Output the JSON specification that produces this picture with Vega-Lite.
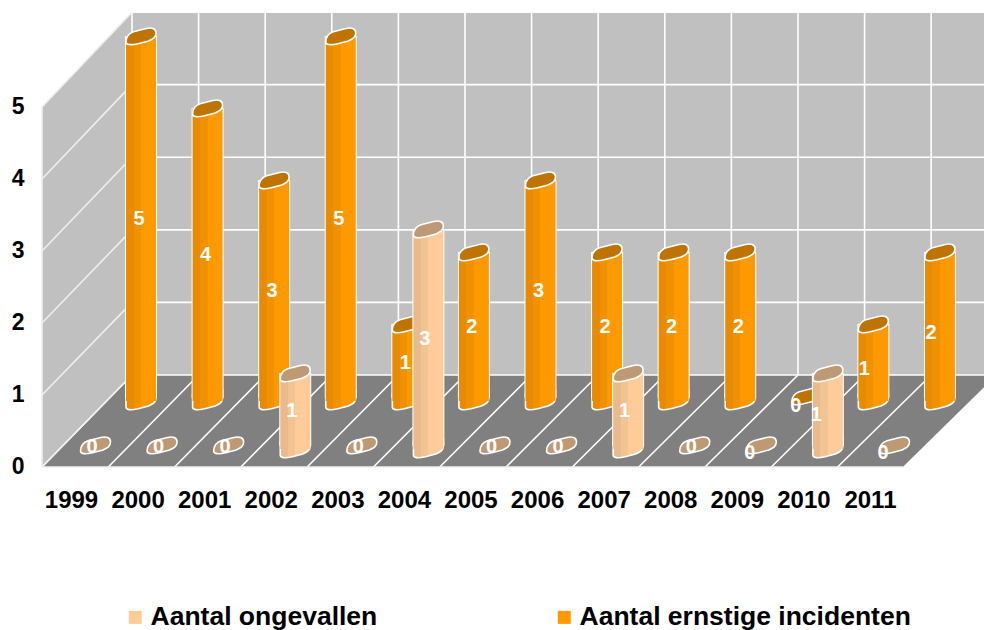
{"$schema":"https://vega.github.io/schema/vega-lite/v6.json","width":954,"height":480,"autosize":{"type":"none"},"padding":{"left":30,"top":0,"right":0,"bottom":150},"background":"white","config":{"view":{"stroke":null}},
"datasets":{"bars":[
{"year":1999,"series":"Aantal ongevallen","value":0},{"year":2000,"series":"Aantal ongevallen","value":0},{"year":2001,"series":"Aantal ongevallen","value":0},{"year":2002,"series":"Aantal ongevallen","value":1},{"year":2003,"series":"Aantal ongevallen","value":0},{"year":2004,"series":"Aantal ongevallen","value":3},{"year":2005,"series":"Aantal ongevallen","value":0},{"year":2006,"series":"Aantal ongevallen","value":0},{"year":2007,"series":"Aantal ongevallen","value":1},{"year":2008,"series":"Aantal ongevallen","value":0},{"year":2009,"series":"Aantal ongevallen","value":0},{"year":2010,"series":"Aantal ongevallen","value":1},{"year":2011,"series":"Aantal ongevallen","value":0},
{"year":1999,"series":"Aantal ernstige incidenten","value":5},{"year":2000,"series":"Aantal ernstige incidenten","value":4},{"year":2001,"series":"Aantal ernstige incidenten","value":3},{"year":2002,"series":"Aantal ernstige incidenten","value":5},{"year":2003,"series":"Aantal ernstige incidenten","value":1},{"year":2004,"series":"Aantal ernstige incidenten","value":2},{"year":2005,"series":"Aantal ernstige incidenten","value":3},{"year":2006,"series":"Aantal ernstige incidenten","value":2},{"year":2007,"series":"Aantal ernstige incidenten","value":2},{"year":2008,"series":"Aantal ernstige incidenten","value":2},{"year":2009,"series":"Aantal ernstige incidenten","value":0},{"year":2010,"series":"Aantal ernstige incidenten","value":1},{"year":2011,"series":"Aantal ernstige incidenten","value":2}],
"ks":[{"k":0},{"k":1},{"k":2},{"k":3},{"k":4},{"k":5},{"k":6},{"k":7},{"k":8},{"k":9},{"k":10},{"k":11},{"k":12},{"k":13}],
"vs":[{"v":0},{"v":1},{"v":2},{"v":3},{"v":4},{"v":5}],
"one":[{"a":1}],
"leftWall":[{"x":1998.564,"top":5,"bot":0},{"x":1999.916,"top":6.318,"bot":1.278}],
"floor":[{"x":1998.564,"top":0,"bot":0},{"x":1999.916,"top":1.278,"bot":0},{"x":2011.509,"top":1.278,"bot":0},{"x":2012.92,"top":1.278,"bot":1.278}]},
"data":{"name":"bars"},
"encoding":{"x":{"field":"year","type":"quantitative","scale":{"domain":[1998.384,2012.713],"nice":false,"zero":false,"padding":0},"axis":{"values":[1999,2000,2001,2002,2003,2004,2005,2006,2007,2008,2009,2010,2011],"format":"d","title":null,"domain":false,"ticks":false,"grid":false,"labelFont":"Liberation Sans","labelFontWeight":"bold","labelFontSize":24,"labelColor":"black","labelPadding":8,"labelOverlap":false,"labelFlush":false}},
"y":{"field":"value","type":"quantitative","scale":{"domain":[-0.1806,6.486],"nice":false,"zero":false},"axis":{"values":[0,1,2,3,4,5],"format":"d","title":null,"domain":false,"ticks":false,"grid":false,"labelFont":"Liberation Sans","labelFontWeight":"bold","labelFontSize":23,"labelColor":"black","labelPadding":6,"labelOverlap":false,"labelFlush":false}}},
"layer":[
{"data":{"name":"one"},"transform":[{"calculate":"1999.916","as":"xa"},{"calculate":"2012.713","as":"xz"},{"calculate":"1.278","as":"ya"},{"calculate":"6.318","as":"yz"}],"mark":{"type":"rect","fill":"#C0C0C0"},"encoding":{"x":{"field":"xa","type":"quantitative","scale":{"domain":[1998.384,2012.713],"nice":false,"zero":false,"padding":0}},"x2":{"field":"xz"},"y":{"field":"ya","type":"quantitative","scale":{"domain":[-0.1806,6.486],"nice":false,"zero":false}},"y2":{"field":"yz"}}},
{"data":{"name":"leftWall"},"mark":{"type":"area","fill":"#C0C0C0","orient":"vertical"},"encoding":{"x":{"field":"x","type":"quantitative","scale":{"domain":[1998.384,2012.713],"nice":false,"zero":false,"padding":0}},"y":{"field":"top","type":"quantitative","scale":{"domain":[-0.1806,6.486],"nice":false,"zero":false}},"y2":{"field":"bot"}}},
{"data":{"name":"floor"},"mark":{"type":"area","fill":"#808080","orient":"vertical","clip":true},"encoding":{"x":{"field":"x","type":"quantitative","scale":{"domain":[1998.384,2012.713],"nice":false,"zero":false,"padding":0}},"y":{"field":"top","type":"quantitative","scale":{"domain":[-0.1806,6.486],"nice":false,"zero":false}},"y2":{"field":"bot"}}},
{"data":{"name":"ks"},"transform":[{"calculate":"1998.564+0.9958*datum.k","as":"xf"},{"calculate":"1999.916+1.0003*datum.k","as":"xb"},{"calculate":"0","as":"ya"},{"calculate":"1.278","as":"yz"}],"mark":{"type":"rule","stroke":"white","strokeWidth":1.6,"clip":true},"encoding":{"x":{"field":"xf","type":"quantitative","scale":{"domain":[1998.384,2012.713],"nice":false,"zero":false,"padding":0}},"x2":{"field":"xb"},"y":{"field":"ya","type":"quantitative","scale":{"domain":[-0.1806,6.486],"nice":false,"zero":false}},"y2":{"field":"yz"}}},
{"data":{"name":"ks"},"transform":[{"calculate":"1999.916+1.0003*datum.k","as":"xb"},{"calculate":"1.278","as":"ya"},{"calculate":"6.318","as":"yz"}],"mark":{"type":"rule","stroke":"white","strokeWidth":1.6,"clip":true},"encoding":{"x":{"field":"xb","type":"quantitative","scale":{"domain":[1998.384,2012.713],"nice":false,"zero":false,"padding":0}},"y":{"field":"ya","type":"quantitative","scale":{"domain":[-0.1806,6.486],"nice":false,"zero":false}},"y2":{"field":"yz"}}},
{"data":{"name":"vs"},"transform":[{"calculate":"1.278+1.008*datum.v","as":"yb"},{"calculate":"1999.916","as":"xa"},{"calculate":"2012.713","as":"xz"}],"mark":{"type":"rule","stroke":"white","strokeWidth":1.6},"encoding":{"x":{"field":"xa","type":"quantitative","scale":{"domain":[1998.384,2012.713],"nice":false,"zero":false,"padding":0}},"x2":{"field":"xz"},"y":{"field":"yb","type":"quantitative","scale":{"domain":[-0.1806,6.486],"nice":false,"zero":false}}}},
{"data":{"name":"vs"},"transform":[{"calculate":"1.278+1.008*datum.v","as":"yb"},{"calculate":"1998.564","as":"xa"},{"calculate":"1999.916","as":"xz"}],"mark":{"type":"rule","stroke":"#F0F0F0","strokeWidth":1.6},"encoding":{"x":{"field":"xa","type":"quantitative","scale":{"domain":[1998.384,2012.713],"nice":false,"zero":false,"padding":0}},"x2":{"field":"xz"},"y":{"field":"v","type":"quantitative","scale":{"domain":[-0.1806,6.486],"nice":false,"zero":false}},"y2":{"field":"yb"}}},
{"data":{"name":"one"},"transform":[{"calculate":"1998.564","as":"xa"},{"calculate":"0","as":"ya"},{"calculate":"5","as":"yz"}],"mark":{"type":"rule","stroke":"#F0F0F0","strokeWidth":1.6},"encoding":{"x":{"field":"xa","type":"quantitative","scale":{"domain":[1998.384,2012.713],"nice":false,"zero":false,"padding":0}},"y":{"field":"ya","type":"quantitative","scale":{"domain":[-0.1806,6.486],"nice":false,"zero":false}},"y2":{"field":"yz"}}},
{"data":{"name":"one"},"transform":[{"calculate":"1998.564","as":"xa"},{"calculate":"2011.509","as":"xz"},{"calculate":"0","as":"ya"}],"mark":{"type":"rule","stroke":"#F0F0F0","strokeWidth":1.6},"encoding":{"x":{"field":"xa","type":"quantitative","scale":{"domain":[1998.384,2012.713],"nice":false,"zero":false,"padding":0}},"x2":{"field":"xz"},"y":{"field":"ya","type":"quantitative","scale":{"domain":[-0.1806,6.486],"nice":false,"zero":false}}}},

{"transform":[{"filter":"datum.series=='Aantal ernstige incidenten' && datum.value>0"}],"mark":{"type":"bar","orient":"vertical","width":30,"xOffset":70,"yOffset":-70,"y2Offset":-70,"stroke":"white","strokeWidth":2},"encoding":{"y2":{"datum":0},"color":{"field":"series","type":"nominal","scale":{"domain":["Aantal ongevallen","Aantal ernstige incidenten"],"range":["#FFCC99","#FF9900"]},"legend":{"orient":"none","legendX":92,"legendY":604,"direction":"horizontal","columns":2,"columnPadding":173,"title":null,"symbolType":"square","symbolSize":169,"symbolStrokeWidth":0,"labelFont":"Liberation Sans","labelFontWeight":"bold","labelFontSize":26.5,"labelColor":"black","labelOffset":2,"symbolOpacity":1,"labelLimit":500,"padding":0}}}},
{"transform":[{"filter":"datum.series=='Aantal ernstige incidenten' && datum.value>0"}],"mark":{"type":"point","filled":true,"opacity":1,"size":900,"shape":"M-1,-0.5 L1,-0.7 L1,-0.2 C1,0.1 0.8,0.2 0.5,0.33 L-0.2,0.52 C-0.7,0.62 -1,0.6 -1,0.4 Z","fill":{"gradient":"linear","x1":0,"y1":0,"x2":1,"y2":0,"stops":[{"offset":0,"color":"#E88B00"},{"offset":0.25,"color":"#E88B00"},{"offset":0.25,"color":"#F09200"},{"offset":0.5,"color":"#F09200"},{"offset":0.5,"color":"#FF9900"},{"offset":1,"color":"#FF9900"}]},"stroke":"white","strokeWidth":1.6,"xOffset":70,"yOffset":-66},"encoding":{"y":{"datum":0,"type":"quantitative","scale":{"domain":[-0.1806,6.486],"nice":false,"zero":false}}}},
{"transform":[{"filter":"datum.series=='Aantal ernstige incidenten' && datum.value>0"}],"mark":{"type":"bar","orient":"vertical","width":30,"xOffset":70,"yOffset":-70,"y2Offset":-66,"fill":{"gradient":"linear","x1":0,"y1":0,"x2":1,"y2":0,"stops":[{"offset":0,"color":"#E88B00"},{"offset":0.25,"color":"#E88B00"},{"offset":0.25,"color":"#F09200"},{"offset":0.5,"color":"#F09200"},{"offset":0.5,"color":"#FF9900"},{"offset":1,"color":"#FF9900"}]}},"encoding":{"y2":{"datum":0}}},
{"transform":[{"filter":"datum.series=='Aantal ernstige incidenten'"}],"mark":{"type":"point","filled":true,"opacity":1,"size":900,"shape":"M-1,0.4 C-1,0.05 -0.85,-0.15 -0.5,-0.28 L0.35,-0.5 C0.7,-0.58 1,-0.5 1,-0.2 C1,0.1 0.8,0.2 0.5,0.33 L-0.2,0.52 C-0.7,0.62 -1,0.6 -1,0.4 Z","fill":"#BF7300","stroke":"white","strokeWidth":1.6,"xOffset":70,"yOffset":-71}},

{"transform":[{"filter":"datum.series=='Aantal ongevallen' && datum.value>0"}],"mark":{"type":"bar","orient":"vertical","width":30,"xOffset":24.5,"yOffset":-21,"y2Offset":-22,"stroke":"white","strokeWidth":2,"fill":"#FFCC99"},"encoding":{"y2":{"datum":0}}},
{"transform":[{"filter":"datum.series=='Aantal ongevallen' && datum.value>0"}],"mark":{"type":"point","filled":true,"opacity":1,"size":900,"shape":"M-1,-0.5 L1,-0.7 L1,-0.2 C1,0.1 0.8,0.2 0.5,0.33 L-0.2,0.52 C-0.7,0.62 -1,0.6 -1,0.4 Z","fill":{"gradient":"linear","x1":0,"y1":0,"x2":1,"y2":0,"stops":[{"offset":0,"color":"#E9BB8C"},{"offset":0.25,"color":"#E9BB8C"},{"offset":0.25,"color":"#F2C393"},{"offset":0.5,"color":"#F2C393"},{"offset":0.5,"color":"#FFCC99"},{"offset":1,"color":"#FFCC99"}]},"stroke":"white","strokeWidth":1.6,"xOffset":24.5,"yOffset":-18},"encoding":{"y":{"datum":0,"type":"quantitative","scale":{"domain":[-0.1806,6.486],"nice":false,"zero":false}}}},
{"transform":[{"filter":"datum.series=='Aantal ongevallen' && datum.value>0"}],"mark":{"type":"bar","orient":"vertical","width":30,"xOffset":24.5,"yOffset":-21,"y2Offset":-18,"fill":{"gradient":"linear","x1":0,"y1":0,"x2":1,"y2":0,"stops":[{"offset":0,"color":"#E9BB8C"},{"offset":0.25,"color":"#E9BB8C"},{"offset":0.25,"color":"#F2C393"},{"offset":0.5,"color":"#F2C393"},{"offset":0.5,"color":"#FFCC99"},{"offset":1,"color":"#FFCC99"}]}},"encoding":{"y2":{"datum":0}}},
{"transform":[{"filter":"datum.series=='Aantal ongevallen'"}],"mark":{"type":"point","filled":true,"opacity":1,"size":900,"shape":"M-1,0.4 C-1,0.05 -0.85,-0.15 -0.5,-0.28 L0.35,-0.5 C0.7,-0.58 1,-0.5 1,-0.2 C1,0.1 0.8,0.2 0.5,0.33 L-0.2,0.52 C-0.7,0.62 -1,0.6 -1,0.4 Z","fill":"#BF9973","stroke":"white","strokeWidth":1.6,"xOffset":24.5,"yOffset":-22}},

{"transform":[{"filter":"datum.series=='Aantal ernstige incidenten' && datum.year<2009"},{"calculate":"datum.value/2","as":"mid"}],"mark":{"type":"text","font":"Liberation Sans","fontWeight":"bold","fontSize":20,"fill":"white","baseline":"middle","xOffset":68,"yOffset":-68},"encoding":{"y":{"field":"mid","type":"quantitative","scale":{"domain":[-0.1806,6.486],"nice":false,"zero":false}},"text":{"field":"value","type":"quantitative"}}},
{"transform":[{"filter":"datum.series=='Aantal ernstige incidenten' && datum.year>=2009 && datum.value>0"},{"calculate":"datum.value/2","as":"mid"}],"mark":{"type":"text","font":"Liberation Sans","fontWeight":"bold","fontSize":20,"fill":"white","baseline":"middle","xOffset":61,"yOffset":-62},"encoding":{"y":{"field":"mid","type":"quantitative","scale":{"domain":[-0.1806,6.486],"nice":false,"zero":false}},"text":{"field":"value","type":"quantitative"}}},
{"transform":[{"filter":"datum.series=='Aantal ernstige incidenten' && datum.year>=2009 && datum.value==0"}],"mark":{"type":"text","font":"Liberation Sans","fontWeight":"bold","fontSize":20,"fill":"white","baseline":"middle","xOffset":59,"yOffset":-61},"encoding":{"text":{"field":"value","type":"quantitative"}}},
{"transform":[{"filter":"datum.series=='Aantal ongevallen' && datum.year<2009"},{"calculate":"datum.value/2","as":"mid"}],"mark":{"type":"text","font":"Liberation Sans","fontWeight":"bold","fontSize":20,"fill":"white","baseline":"middle","xOffset":21,"yOffset":-20},"encoding":{"y":{"field":"mid","type":"quantitative","scale":{"domain":[-0.1806,6.486],"nice":false,"zero":false}},"text":{"field":"value","type":"quantitative"}}},
{"transform":[{"filter":"datum.series=='Aantal ongevallen' && datum.year>=2009 && datum.value>0"},{"calculate":"datum.value/2","as":"mid"}],"mark":{"type":"text","font":"Liberation Sans","fontWeight":"bold","fontSize":20,"fill":"white","baseline":"middle","xOffset":13,"yOffset":-16},"encoding":{"y":{"field":"mid","type":"quantitative","scale":{"domain":[-0.1806,6.486],"nice":false,"zero":false}},"text":{"field":"value","type":"quantitative"}}},
{"transform":[{"filter":"datum.series=='Aantal ongevallen' && datum.year>=2009 && datum.value==0"}],"mark":{"type":"text","font":"Liberation Sans","fontWeight":"bold","fontSize":20,"fill":"white","baseline":"middle","xOffset":13,"yOffset":-14},"encoding":{"text":{"field":"value","type":"quantitative"}}}
]}
